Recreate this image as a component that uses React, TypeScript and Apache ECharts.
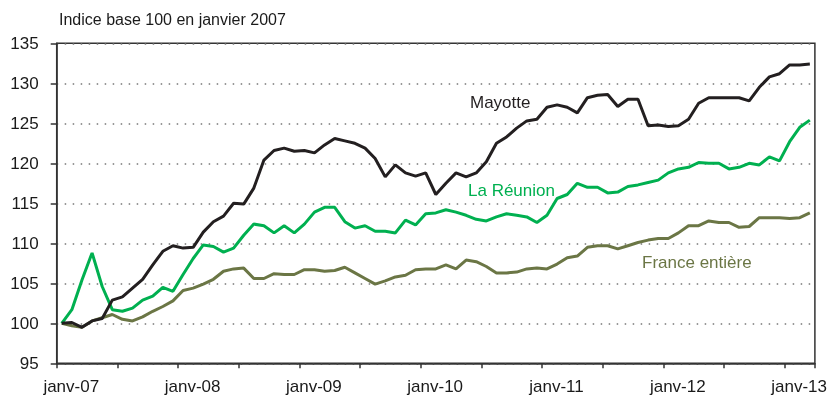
import React, { useEffect, useRef } from "react";
import * as echarts from "echarts";

const monthNames = ["janv", "févr", "mars", "avr", "mai", "juin", "juil", "août", "sept", "oct", "nov", "déc"];
const years = ["07", "08", "09", "10", "11", "12", "13"];
const categories: string[] = [];
years.forEach((y) => monthNames.forEach((m) => categories.push(`${m}-${y}`)));
categories.length = 75; // janv-07 .. mars-13

const yTicks = [95, 100, 105, 110, 115, 120, 125, 130, 135];

const mayotte = [
  100, 100.1, 99.5, 100.3, 100.6, 102.9, 103.3, 104.4, 105.5, 107.3,
  109.0, 109.7, 109.4, 109.5, 111.4, 112.7, 113.4, 115.0, 114.9, 116.9,
  120.4, 121.6, 121.9, 121.5, 121.6, 121.3, 122.3, 123.1, 122.8, 122.5,
  121.9, 120.6, 118.3, 119.8, 118.8, 118.4, 118.8, 116.1, 117.5, 118.8,
  118.3, 118.8, 120.2, 122.5, 123.3, 124.4, 125.3, 125.5, 127.0, 127.3,
  127.0, 126.3, 128.2, 128.5, 128.6, 127.1, 128.0, 128.0, 124.7, 124.8,
  124.6, 124.7, 125.5, 127.5, 128.2, 128.2, 128.2, 128.2, 127.8, 129.5,
  130.8, 131.2, 132.3, 132.3, 132.4,
];

const reunion = [
  100, 101.7, 105.4, 108.8, 104.6, 101.7, 101.5, 101.9, 102.9, 103.4,
  104.5, 104.0, 106.1, 108.1, 109.8, 109.6, 108.9, 109.4, 111.0, 112.4,
  112.2, 111.3, 112.2, 111.3, 112.4, 113.9, 114.5, 114.5, 112.7, 111.9,
  112.2, 111.5, 111.5, 111.3, 112.9, 112.3, 113.7, 113.8, 114.2, 113.9,
  113.5, 113.0, 112.8, 113.3, 113.7, 113.5, 113.3, 112.6, 113.5, 115.6,
  116.1, 117.5, 117.0, 117.0, 116.3, 116.4, 117.1, 117.3, 117.6, 117.9,
  118.8, 119.3, 119.5, 120.1, 120.0, 120.0, 119.3, 119.5, 120.0, 119.8,
  120.8, 120.3, 122.7, 124.5, 125.4,
];

const france = [
  100, 99.7, 99.5, 100.3, 100.7, 101.1, 100.5, 100.3, 100.8, 101.5,
  102.1, 102.8, 104.1, 104.4, 104.9, 105.5, 106.5, 106.8, 106.9, 105.6,
  105.6, 106.2, 106.1, 106.1, 106.7, 106.7, 106.5, 106.6, 107.0, 106.3,
  105.6, 104.9, 105.3, 105.8, 106.0, 106.7, 106.8, 106.8, 107.3, 106.8,
  107.9, 107.7, 107.1, 106.3, 106.3, 106.4, 106.8, 106.9, 106.8, 107.4,
  108.2, 108.4, 109.5, 109.7, 109.7, 109.3, 109.7, 110.1, 110.4, 110.6,
  110.6, 111.3, 112.2, 112.2, 112.8, 112.6, 112.6, 112.0, 112.1, 113.2,
  113.2, 113.2, 113.1, 113.2, 113.8,
];

const FONT = "'Liberation Sans', Arial, sans-serif";
const BLACK = "#231f20";
const GREEN = "#00b050";
const OLIVE = "#6b7645";

export default function App() {
  const ref = useRef<HTMLDivElement>(null);
  useEffect(() => {
    if (!ref.current) return;
    const chart = echarts.init(ref.current, null, { renderer: "svg" });
    chart.setOption({
      animation: false,
      textStyle: { fontFamily: FONT },
      grid: {
        left: 56.7,
        right: 15,
        top: 43.3,
        bottom: 37.7,
        show: true,
        borderColor: "#333",
        borderWidth: 1.5,
      },
      title: {
        text: "Indice base 100 en janvier 2007",
        left: 59,
        top: 11,
        padding: 0,
        textStyle: { fontFamily: FONT, fontSize: 16, fontWeight: "normal", color: "#1a1a1a" },
      },
      xAxis: {
        type: "category",
        data: categories,
        boundaryGap: true,
        axisLine: { lineStyle: { color: "#333", width: 1.5 } },
        axisTick: { show: true, interval: 5, length: 5, alignWithLabel: false, lineStyle: { color: "#333", width: 1.5 } },
        axisLabel: {
          interval: 11,
          fontSize: 17,
          fontFamily: FONT,
          color: "#1a1a1a",
          margin: 15,
          padding: [0, 0, 0, 19],
        },
        splitLine: { show: false },
      },
      yAxis: {
        type: "value",
        min: yTicks[0],
        max: yTicks[yTicks.length - 1],
        interval: 5,
        axisLine: { show: true, lineStyle: { color: "#333", width: 1.5 } },
        axisTick: { show: true, length: 6, lineStyle: { color: "#333", width: 1.5 } },
        axisLabel: { fontSize: 17, fontFamily: FONT, color: "#1a1a1a", margin: 18 },
        splitLine: { show: true, lineStyle: { color: "#777", width: 1.5, type: [1.5, 6.5] } },
      },
      series: [
        { name: "Mayotte", type: "line", data: mayotte, showSymbol: false, lineStyle: { color: BLACK, width: 3 }, itemStyle: { color: BLACK }, z: 4 },
        { name: "La Réunion", type: "line", data: reunion, showSymbol: false, lineStyle: { color: GREEN, width: 3 }, itemStyle: { color: GREEN }, z: 3 },
        { name: "France entière", type: "line", data: france, showSymbol: false, lineStyle: { color: OLIVE, width: 3 }, itemStyle: { color: OLIVE }, z: 2 },
      ],
      graphic: [
        { type: "text", left: 470, top: 94, style: { text: "Mayotte", fill: BLACK, font: `17px ${FONT}` } },
        { type: "text", left: 468, top: 182, style: { text: "La Réunion", fill: GREEN, font: `17px ${FONT}` } },
        { type: "text", left: 642, top: 254, style: { text: "France entière", fill: OLIVE, font: `17px ${FONT}` } },
      ],
    });
    return () => chart.dispose();
  }, []);
  return <div ref={ref} style={{ position: "fixed", left: 0, top: 0, width: 830, height: 401 }} />;
}
